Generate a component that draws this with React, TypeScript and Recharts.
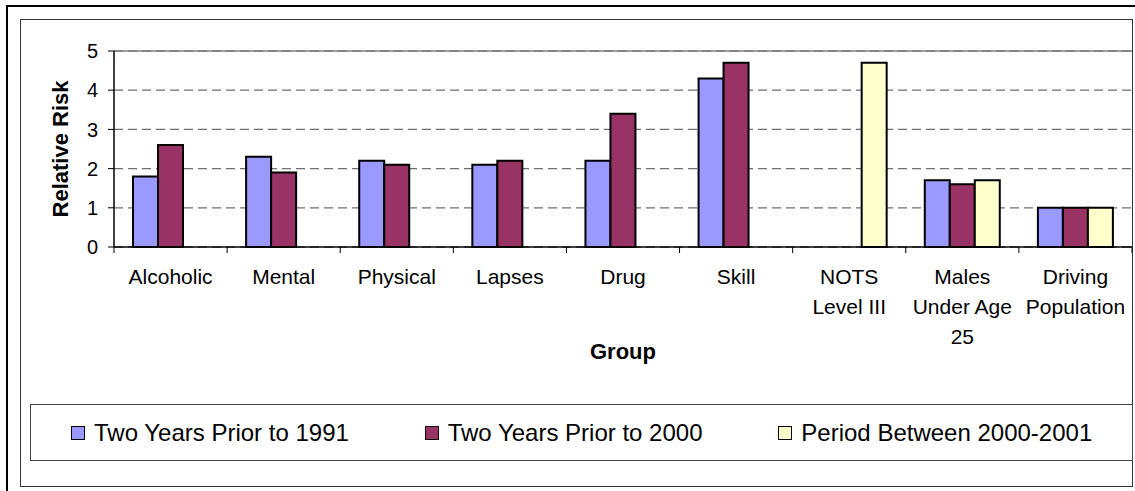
import { BarChart, Bar, XAxis, YAxis, CartesianGrid, Legend, ReferenceLine } from 'recharts';

const categories = ['Alcoholic', 'Mental', 'Physical', 'Lapses', 'Drug', 'Skill', 'NOTS Level III', 'Males Under Age 25', 'Driving Population'];
const tickLabels = [['Alcoholic'], ['Mental'], ['Physical'], ['Lapses'], ['Drug'], ['Skill'], ['NOTS', 'Level III'], ['Males', 'Under Age', '25'], ['Driving', 'Population']];
const prior1991 = [1.8, 2.3, 2.2, 2.1, 2.2, 4.3, null, 1.7, 1.0];
const prior2000 = [2.6, 1.9, 2.1, 2.2, 3.4, 4.7, null, 1.6, 1.0];
const between2000 = [null, null, null, null, null, null, 4.7, 1.7, 1.0];
const yTicks = [0, 1, 2, 3, 4, 5];

const seriesNames = ['Two Years Prior to 1991', 'Two Years Prior to 2000', 'Period Between 2000-2001'];
const colors = ['#9999FF', '#993366', '#FFFFCC'];

const data = categories.map((name, i) => ({
    name,
    a: prior1991[i],
    b: prior2000[i],
    c: between2000[i],
}));

const FONT = '"Liberation Sans", Arial, sans-serif';
const PLOT_LEFT = 114;
const PLOT_RIGHT = 1132;
const STEP = (PLOT_RIGHT - PLOT_LEFT) / categories.length;

const GroupTick = (props: any) => {
    const { x, y, payload, index } = props;
    const lines = tickLabels[index] || [String(payload.value)];
    return (
        <g>
            <line x1={x - STEP / 2} y1={y} x2={x - STEP / 2} y2={y + 6} stroke="#000" />
            {index === categories.length - 1 && (
                <line x1={x + STEP / 2} y1={y} x2={x + STEP / 2} y2={y + 6} stroke="#000" />
            )}
            <text x={x} y={y + 37} textAnchor="middle" fontSize={21} fontFamily={FONT} fill="#000">
                {lines.map((l: string, k: number) => (
                    <tspan key={k} x={x} dy={k === 0 ? 0 : 30}>{l}</tspan>
                ))}
            </text>
        </g>
    );
};

const LegendBox = () => (
    <div style={{
        width: 1101, height: 55, border: '1px solid #444', boxSizing: 'content-box',
        display: 'flex', alignItems: 'center', fontFamily: FONT, fontSize: 24, color: '#000',
    }}>
        {seriesNames.map((n, i) => (
            <div key={n} style={{ display: 'flex', alignItems: 'center', width: 355, marginLeft: i === 0 ? 40 : 0 }}>
                <span style={{ display: 'inline-block', width: 12, height: 12, background: colors[i], border: '1.5px solid #000', marginRight: 9 }} />
                <span>{n}</span>
            </div>
        ))}
    </div>
);

const App = () => {
    return (
        <div style={{ position: 'fixed', left: 0, top: 0, width: 1135, height: 491, background: '#fff', overflow: 'hidden' }}>
            <div style={{ position: 'absolute', left: 6, top: 5, width: 1200, height: 600, borderLeft: '2px solid #000', borderTop: '2px solid #000' }} />
            <div style={{ position: 'absolute', left: 20, top: 19, width: 1111, height: 466, border: '1px solid #333' }} />
            <div style={{ position: 'absolute', left: 0, top: 0 }}>
                <BarChart
                    width={1135}
                    height={491}
                    data={data}
                    margin={{ top: 51, right: 3, left: 54, bottom: 131 }}
                    barCategoryGap="16.8%"
                    barGap={0}
                >
                    <CartesianGrid vertical={false} stroke="#707070" strokeWidth={1.3} strokeDasharray="9 5" />
                    <ReferenceLine y={5} stroke="#808080" strokeWidth={1.5} />
                    <XAxis
                        dataKey="name"
                        height={113}
                        interval={0}
                        tickSize={0}
                        tickMargin={0}
                        tickLine={false}
                        axisLine={{ stroke: '#000', strokeWidth: 1.5 }}
                        tick={<GroupTick />}
                        label={{
                            content: (p: any) => {
                                const vb = p.viewBox;
                                return (
                                    <text x={vb.x + vb.width / 2} y={vb.y + 112} textAnchor="middle" fontSize={22} fontWeight="bold" fontFamily={FONT} fill="#000">Group</text>
                                );
                            },
                        }}
                    />
                    <YAxis
                        width={60}
                        domain={[0, 5]}
                        ticks={yTicks}
                        interval={0}
                        tickSize={6}
                        tickMargin={10}
                        axisLine={{ stroke: '#000', strokeWidth: 1.5 }}
                        tickLine={{ stroke: '#000' }}
                        tick={{ fontSize: 20, fontFamily: FONT, fill: '#000' }}
                        label={{
                            content: (p: any) => {
                                const vb = p.viewBox;
                                const cx = vb.x + 6;
                                const cy = vb.y + vb.height / 2;
                                return (
                                    <text x={cx} y={cy} transform={`rotate(-90 ${cx} ${cy})`} textAnchor="middle" dominantBaseline="central" fontSize={22} fontWeight="bold" fontFamily={FONT} fill="#000">Relative Risk</text>
                                );
                            },
                        }}
                    />
                    <Legend
                        layout="horizontal"
                        verticalAlign="middle"
                        align="center"
                        content={<LegendBox />}
                        wrapperStyle={{ position: 'absolute', left: 30, top: 404, width: 1103, height: 57 }}
                    />
                    <Bar dataKey="a" name={seriesNames[0]} fill={colors[0]} stroke="#000" strokeWidth={2} isAnimationActive={false} />
                    <Bar dataKey="b" name={seriesNames[1]} fill={colors[1]} stroke="#000" strokeWidth={2} isAnimationActive={false} />
                    <Bar dataKey="c" name={seriesNames[2]} fill={colors[2]} stroke="#000" strokeWidth={2} isAnimationActive={false} />
                </BarChart>
            </div>
        </div>
    );
};

export default App;
